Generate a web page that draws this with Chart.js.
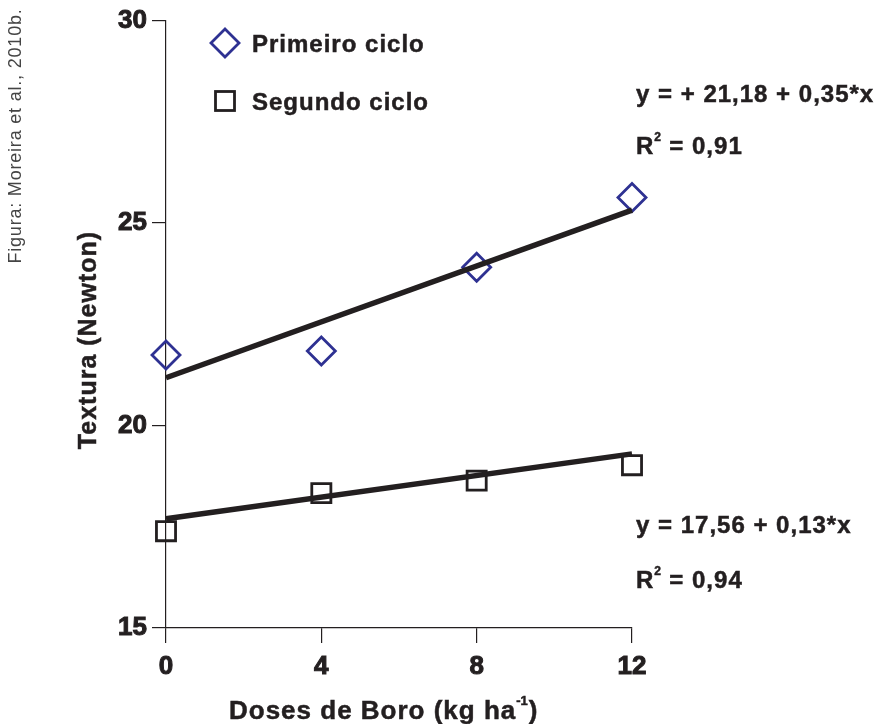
<!DOCTYPE html>
<html>
<head>
<meta charset="utf-8">
<script src="https://cdn.jsdelivr.net/npm/chart.js@4"></script>
<style>
  html, body { margin: 0; padding: 0; background: #fff; }
  canvas { display: block; }
</style>
</head>
<body>
<canvas id="c" width="880" height="724"></canvas>
<script>
// Textura vs doses de boro, dois ciclos + retas de regressão
const doses = [0, 4, 8, 12];
const primeiro = [21.74, 21.84, 23.91, 25.63];
const segundo = [17.39, 18.33, 18.64, 19.02];
const fitX = [0, 12];
const fitPrimeiro = [21.18, 25.32];
const fitSegundo = [17.70, 19.30];
const xTicks = [0, 4, 8, 12];
const yTicks = [15, 20, 25, 30];

const INK = '#231f20';
const BLUE = '#2e3192';
const FONT = '"Liberation Sans", Arial, sans-serif';

const pts = (xs, ys) => xs.map((x, i) => ({ x, y: ys[i] }));

function txt(ctx, s, x, y, size, opts = {}) {
  ctx.font = `${opts.weight || 'bold'} ${size}px ${FONT}`;
  ctx.letterSpacing = (opts.spacing ?? 1) + 'px';
  ctx.textAlign = opts.align || 'left';
  ctx.textBaseline = 'alphabetic';
  ctx.fillStyle = opts.color || INK;
  ctx.fillText(s, x, y);
  if (opts.weight !== 'normal') {
    // slightly heavier strokes, closer to the printed figure
    ctx.strokeStyle = opts.color || INK;
    ctx.lineWidth = 0.5;
    ctx.strokeText(s, x, y);
  }
  return ctx.measureText(s).width;
}

const annotations = {
  id: 'annotations',
  afterDraw(chart) {
    const { ctx } = chart;
    ctx.save();

    // legend
    ctx.lineWidth = 2.8;
    ctx.strokeStyle = BLUE;
    ctx.beginPath();
    ctx.moveTo(225, 29); ctx.lineTo(239, 43); ctx.lineTo(225, 57); ctx.lineTo(211, 43);
    ctx.closePath();
    ctx.stroke();
    ctx.strokeStyle = INK;
    ctx.strokeRect(215.5, 91.5, 19, 19);
    txt(ctx, 'Primeiro ciclo', 252, 52, 24);
    txt(ctx, 'Segundo ciclo', 252, 110, 24);

    // equations
    txt(ctx, 'y = + 21,18 + 0,35*x', 636, 102, 24);
    let w = txt(ctx, 'R', 636, 154, 24);
    txt(ctx, '2', 636 + w, 141, 12, { spacing: 0 });
    txt(ctx, '= 0,91', 636 + w + 15, 154, 24);
    txt(ctx, 'y = 17,56 + 0,13*x', 636, 533, 24);
    w = txt(ctx, 'R', 636, 588, 24);
    txt(ctx, '2', 636 + w, 575, 12, { spacing: 0 });
    txt(ctx, '= 0,94', 636 + w + 15, 588, 24);

    // x title with superscript
    let x = 229;
    x += txt(ctx, 'Doses de Boro (kg ha', x, 719, 26);
    x += txt(ctx, '-1', x, 705, 13, { spacing: 0 });
    txt(ctx, ')', x + 1, 719, 26);

    // y title
    ctx.save();
    ctx.translate(96, 340);
    ctx.rotate(-Math.PI / 2);
    txt(ctx, 'Textura (Newton)', 0, 0, 25, { align: 'center' });
    ctx.restore();

    // source note
    ctx.save();
    ctx.translate(21, 136);
    ctx.rotate(-Math.PI / 2);
    txt(ctx, 'Figura: Moreira et al., 2010b.', 0, 0, 18, { align: 'center', weight: 'normal', spacing: 0.8, color: '#444' });
    ctx.restore();

    ctx.restore();
  },
};

const axisCommon = {
  type: 'linear',
  border: { display: true, color: INK, width: 1.2 },
  grid: { drawOnChartArea: false, drawTicks: true, color: INK, lineWidth: 1.2 },
  ticks: {
    color: INK,
    font: { family: FONT, size: 26, weight: 'bold' },
    textStrokeColor: INK,
    textStrokeWidth: 1,
    maxRotation: 0,
  },
};

new Chart(document.getElementById('c'), {
  type: 'scatter',
  data: {
    datasets: [
      {
        label: 'fit1', data: pts(fitX, fitPrimeiro), showLine: true,
        borderColor: INK, borderWidth: 5.5, pointRadius: 0, clip: false,
      },
      {
        label: 'fit2', data: pts(fitX, fitSegundo), showLine: true,
        borderColor: INK, borderWidth: 5.5, pointRadius: 0, clip: false,
      },
      {
        label: 'Primeiro ciclo', data: pts(doses, primeiro),
        pointStyle: 'rectRot', pointRadius: 14, pointBorderWidth: 2.8,
        pointBorderColor: BLUE, pointBackgroundColor: 'rgba(0,0,0,0)', clip: false,
      },
      {
        label: 'Segundo ciclo', data: pts(doses, segundo),
        pointStyle: 'rect', pointRadius: 13.5, pointBorderWidth: 2.8,
        pointBorderColor: INK, pointBackgroundColor: 'rgba(0,0,0,0)', clip: false,
      },
    ],
  },
  plugins: [annotations],
  options: {
    responsive: false,
    animation: false,
    events: [],
    layout: { padding: { top: 18, right: 248, bottom: 0, left: 0 } },
    plugins: { legend: { display: false }, tooltip: { enabled: false } },
    scales: {
      x: {
        ...axisCommon,
        min: 0, max: 12,
        grid: { ...axisCommon.grid, tickLength: 15 },
        ticks: { ...axisCommon.ticks, padding: 8 },
        afterBuildTicks: (s) => { s.ticks = xTicks.map((v) => ({ value: v })); },
        afterFit: (s) => { s.height = 96; },
      },
      y: {
        ...axisCommon,
        min: 15, max: 30,
        grid: { ...axisCommon.grid, tickLength: 14 },
        ticks: { ...axisCommon.ticks, padding: 5 },
        afterBuildTicks: (s) => { s.ticks = yTicks.map((v) => ({ value: v })); },
        afterFit: (s) => { s.width = 166; },
      },
    },
  },
});
</script>
</body>
</html>
